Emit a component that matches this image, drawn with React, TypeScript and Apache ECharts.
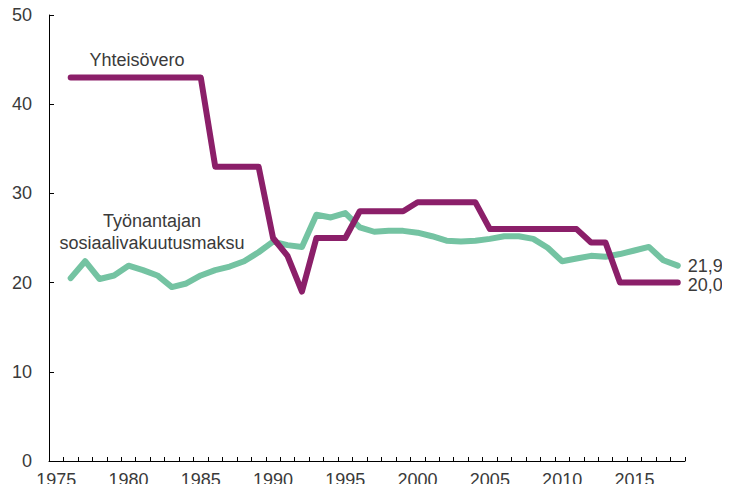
import React, { useEffect, useRef } from "react";
import * as echarts from "echarts";

const years: string[] = [];
for (let y = 1975; y <= 2018; y++) years.push(String(y));

// 1975 has no data
const yhteisovero: (number | null)[] = [
  null,
  43, 43, 43, 43, 43, 43, 43, 43, 43, 43, // 1976-1985
  33, 33, 33, 33, // 1986-1989
  25, 23, 19, 25, 25, 25, // 1990-1995
  28, 28, 28, 28, // 1996-1999
  29, 29, 29, 29, 29, // 2000-2004
  26, 26, 26, 26, 26, 26, 26, // 2005-2011
  24.5, 24.5, // 2012-2013
  20, 20, 20, 20, 20, // 2014-2018
];

const sosiaalivakuutusmaksu: (number | null)[] = [
  null,
  20.5, 22.4, 20.4, 20.8, 21.9, 21.4, 20.8, 19.5, 19.9, 20.8, // 1976-1985
  21.4, 21.8, 22.4, 23.4, 24.6, 24.2, 24.0, 27.6, 27.3, 27.8, // 1986-1995
  26.2, 25.7, 25.8, 25.8, 25.6, 25.2, 24.7, 24.6, 24.7, 24.9, // 1996-2005
  25.2, 25.2, 24.9, 23.9, 22.4, 22.7, 23.0, 22.9, 23.2, 23.6, // 2006-2015
  24.0, 22.5, 21.9, // 2016-2018
];

const seriesNames = ["Yhteisövero", "Työnantajan\nsosiaalivakuutusmaksu"];

const PURPLE = "#8b1f69";
const GREEN = "#74c3a2";
const TEXT = "#3a3a3a";
const FONT = "'Liberation Sans', Arial, sans-serif";

const fmt = (v: number) => v.toFixed(1).replace(".", ",");

export default function App() {
  const ref = useRef<HTMLDivElement>(null);
  useEffect(() => {
    if (!ref.current) return;
    const chart = echarts.init(ref.current, undefined, { renderer: "svg" });
    const endLabel = (dy: number) => ({
      show: true,
      distance: 10,
      offset: [0, dy],
      color: TEXT,
      fontSize: 18,
      fontFamily: FONT,
      formatter: (p: any) => fmt(Array.isArray(p.value) ? p.value[1] : p.value),
    });
    chart.setOption({
      animation: false,
      grid: { left: 49, right: 45, top: 15, bottom: 31, containLabel: false },
      xAxis: {
        type: "category",
        data: years,
        boundaryGap: true,
        axisLine: { lineStyle: { color: "#000", width: 1 } },
        axisTick: { show: true, inside: true, length: 4, interval: 0, lineStyle: { color: "#000" } },
        axisLabel: { interval: 4, color: TEXT, fontSize: 18, fontFamily: FONT, margin: 10 },
        splitLine: { show: false },
      },
      yAxis: {
        type: "value",
        min: 0,
        max: 50,
        interval: 10,
        axisLine: { show: true, lineStyle: { color: "#000", width: 1 } },
        axisTick: { show: true, inside: true, length: 5, lineStyle: { color: "#000" } },
        axisLabel: { color: TEXT, fontSize: 18, fontFamily: FONT, margin: 17 },
        splitLine: { show: false },
      },
      series: [
        {
          name: seriesNames[1],
          type: "line",
          data: sosiaalivakuutusmaksu,
          showSymbol: false,
          symbol: "none",
          clip: false,
          lineStyle: { color: GREEN, width: 6, cap: "round", join: "round" },
          itemStyle: { color: GREEN },
          endLabel: endLabel(0),
          z: 2,
        },
        {
          name: seriesNames[0],
          type: "line",
          data: yhteisovero,
          showSymbol: false,
          symbol: "none",
          clip: false,
          lineStyle: { color: PURPLE, width: 6, cap: "round", join: "round" },
          itemStyle: { color: PURPLE },
          endLabel: endLabel(2),
          z: 3,
        },
      ],
      graphic: [
        {
          type: "text",
          x: 137,
          y: 60,
          style: {
            text: seriesNames[0],
            fill: TEXT,
            fontSize: 18,
            fontFamily: FONT,
            align: "center",
            verticalAlign: "middle",
          },
        },
        {
          type: "text",
          x: 152,
          y: 232,
          style: {
            text: seriesNames[1],
            fill: TEXT,
            fontSize: 18,
            fontFamily: FONT,
            lineHeight: 22,
            align: "center",
            verticalAlign: "middle",
          },
        },
      ],
    });
    return () => chart.dispose();
  }, []);
  return <div ref={ref} style={{ width: 730, height: 492, margin: -8 }} />;
}
